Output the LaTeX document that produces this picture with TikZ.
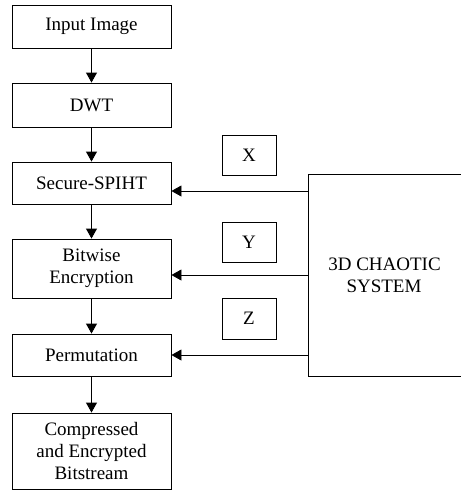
\documentclass[tikz,border=0pt]{standalone}
\usepackage{fontspec}
\setmainfont{Liberation Serif}
\newfontfamily\boxfont{Liberation Serif}
\usetikzlibrary{arrows.meta}
\begin{document}
\begin{tikzpicture}[x=1pt,y=-1pt,
  lbl/.style={font=\boxfont\fontsize{19}{22}\selectfont},
  box/.style={draw, line width=0.9pt, inner sep=0pt, align=center,
    lbl, minimum width=159pt},
  keybox/.style={draw, line width=0.9pt, inner sep=0pt,
    lbl, minimum width=54pt},
  arr/.style={line width=0.9pt, -{Triangle[length=10pt,width=11pt]}}]
\clip (0,0) rectangle (461,499);
\fill[white] (0,0) rectangle (461,499);

% main processing chain
\node[box, minimum height=43pt] (in)   at (91.5,26.5) {Input Image};
\node[box, minimum height=44pt] (dwt)  at (91.5,105)  {DWT};
\node[box, minimum height=42pt] (sp)   at (91.5,183)  {Secure-SPIHT};
\node[box, minimum height=59pt] (bw)   at (91.5,268.5){Bitwise\\Encryption};
\node[box, minimum height=42pt] (perm) at (91.5,355)  {Permutation};
\node[box, minimum height=76pt] (out)  at (91.5,451)  {Compressed\\and Encrypted\\Bitstream};

% chaotic key generator and its three sequences
\node[draw, line width=0.9pt, minimum width=155pt, minimum height=202pt,
  inner sep=0pt, align=center, lbl]
  (chaos) at (385.5,275) {\hspace*{-2pt}3D CHAOTIC\\SYSTEM\hspace*{3pt}};
\node[keybox, minimum height=40pt] (kx) at (249,155)   {X};
\node[keybox, minimum height=40pt] (ky) at (249,242)   {Y};
\node[keybox, minimum height=41pt] (kz) at (249,318.5) {Z};

% vertical flow
\draw[arr] (in)   -- (dwt);
\draw[arr] (dwt)  -- (sp);
\draw[arr] (sp)   -- (bw);
\draw[arr] (bw)   -- (perm);
\draw[arr] (perm) -- (out);

% key streams into the chain
\coordinate (k1) at (0,191);
\coordinate (k2) at (0,275);
\coordinate (k3) at (0,355);
\draw[arr] (chaos.west |- k1) -- (sp.east |- k1);
\draw[arr] (chaos.west |- k2) -- (bw.east |- k2);
\draw[arr] (chaos.west |- k3) -- (perm.east |- k3);
\end{tikzpicture}
\end{document}
